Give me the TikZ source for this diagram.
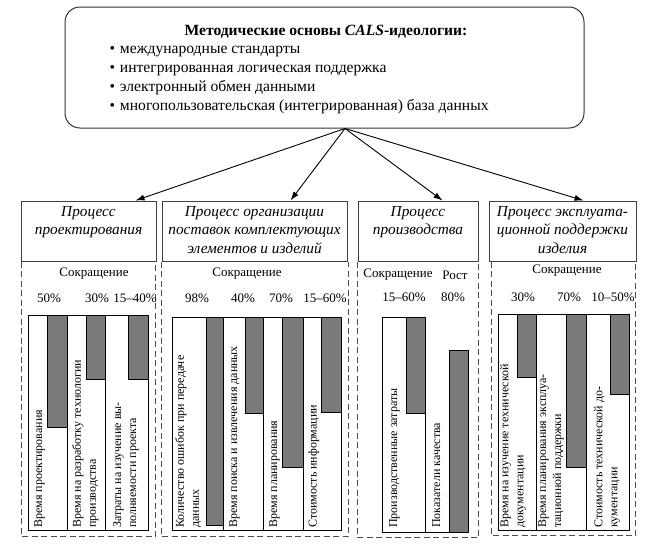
\documentclass[tikz,border=0pt]{standalone}
\usepackage{fontspec}
\setmainfont{Liberation Serif}
\usetikzlibrary{arrows.meta,positioning,calc}

\begin{document}
\begin{tikzpicture}[x=1pt, y=-1pt,
      every node/.style={font=\fontsize{13}{15}\selectfont},
      topbox/.style={draw=black!80, line width=1pt, rounded corners=15pt,
                     minimum width=519pt, minimum height=121pt},
      topitem/.style={anchor=base west, font=\fontsize{15.6}{18}\selectfont},
      procbox/.style={draw=black!75, line width=1pt, minimum height=60pt,
                      align=center, inner sep=1pt,
                      font=\fontsize{15.3}{18.5}\selectfont\itshape},
      panel/.style={draw=black!70, line width=0.9pt, dash pattern=on 6pt off 3.5pt},
      link/.style={-{Latex[length=9pt,width=6pt]}, line width=0.9pt},
      chart/.style={line width=0.6pt},
      bar/.style={draw=black, line width=0.8pt, fill=black!52},
      lbl/.style={rotate=90, anchor=north west, align=left, inner sep=0pt,
                  font=\fontsize{12}{15}\selectfont},
    ]
    \useasboundingbox (0,0) rectangle (656,544);

    % Top block: methodological basis
    \node[topbox] (cals) at (324.5,67.5) {};
    \node[anchor=base, font=\fontsize{15.6}{18}\selectfont\bfseries] (title) at (326,35)
          {Методические основы \textit{CALS}-идеологии:};
    \node[topitem] (it1) at (106,53) {\textbullet\hspace{5pt}международные стандарты};
    \node[topitem] (it2) at (106,72) {\textbullet\hspace{5pt}интегрированная логическая поддержка};
    \node[topitem] (it3) at (106,91) {\textbullet\hspace{5pt}электронный обмен данными};
    \node[topitem] (it4) at (106,110)
          {\textbullet\hspace{5pt}многопользовательская (интегрированная) база данных};
    \coordinate (hub) at ([xshift=20.5pt]cals.south);

    % Process blocks
    \node[procbox, minimum width=135pt] (proc1) at (88.5,231)
          {\strut Процесс\\проектирования\\\strut};
    \node[procbox, minimum width=185pt] (proc2) at (254.5,231)
          {\strut Процесс организации\\поставок комплектующих\\элементов и изделий\strut};
    \node[procbox, minimum width=120pt] (proc3) at (418,231)
          {\strut Процесс\\производства\\\strut};
    \node[procbox, minimum width=147pt] (proc4) at (562.5,231)
          {\strut Процесс эксплуата-\\ционной поддержки\\изделия\strut};

    \draw[link] (hub) -- ([xshift=-21pt]proc1.north east);
    \draw[link] (hub) -- ([xshift=-57pt]proc2.north east);
    \draw[link] (hub) -- ([xshift=-36pt]proc3.north east);
    \draw[link] (hub) -- ([xshift=-53pt]proc4.north east);

    % Dashed panels under the blocks
    \draw[panel] ([xshift=1pt]proc1.south west) -- ++(0,275) -| ([xshift=-1pt]proc1.south east);
    \draw[panel] (proc2.south west) -- ++(0,275) -| ([xshift=1pt]proc2.south east);
    \draw[panel] (proc3.south west) -- ++(0,276) -| (proc3.south east);
    \draw[panel] ([xshift=3pt]proc4.south west) -- ++(0,274) -| ([xshift=-1pt]proc4.south east);

    % Panel 1
    \node (red1) at (94,274) {Сокращение};
    \node (p11) at (49,298) {50\%};
    \node (p12) at (97,298) {30\%};
    \node (p13) at (135,298) {15--40\%};
    \draw[chart] (28,315) rectangle (148,530);
    \draw[chart] (67,315) -- (67,530) (105,315) -- (105,530);
    \draw[bar] (47,315) rectangle (67,427);
    \draw[bar] (86,315) rectangle (105,379);
    \draw[bar] (128,315) rectangle (148,379);
    \node[lbl] (l11) at (34,528) {Время проектирования};
    \node[lbl] (l12) at (72,528) {Время на разработку технологии\\производства};
    \node[lbl] (l13) at (113,528) {Затраты на изучение вы-\\полняемости проекта};

    % Panel 2
    \node (red2) at (247,274) {Сокращение};
    \node (p21) at (197,298) {98\%};
    \node (p22) at (243,298) {40\%};
    \node (p23) at (281,298) {70\%};
    \node (p24) at (325,298) {15--60\%};
    \draw[chart] (172,317) rectangle (341,530);
    \draw[chart] (223,317) -- (223,530) (263,317) -- (263,530) (303,317) -- (303,530);
    \draw[bar] (206,317) rectangle (223,525);
    \draw[bar] (245,317) rectangle (263,413);
    \draw[bar] (282,317) rectangle (303,467);
    \draw[bar] (321,317) rectangle (341,412);
    \node[lbl] (l21) at (175,528) {Количество ошибок при передаче\\данных};
    \node[lbl] (l22) at (229,528) {Время  поиска и извлечения данных};
    \node[lbl] (l23) at (269,528) {Время планирования};
    \node[lbl] (l24) at (308,528) {Стоимость информации};

    % Panel 3
    \node (red3) at (398,275) {Сокращение};
    \node (grow3) at (455,275) {Рост};
    \node (p31) at (404,297) {15--60\%};
    \node (p32) at (453,297) {80\%};
    \draw[chart] (425,317) -- (382,317) -- (382,532) -- (468,532);
    \draw[chart] (425,317) -- (425,532);
    \draw[bar] (406,317) rectangle (425,413);
    \draw[bar] (449,350) rectangle (468,532);
    \node[lbl] (l31) at (389,528) {Производственные затраты};
    \node[lbl] (l32) at (432,528) {Показатели качества};

    % Panel 4
    \node (red4) at (567,271) {Сокращение};
    \node (p41) at (523,297) {30\%};
    \node (p42) at (569,297) {70\%};
    \node (p43) at (613,297) {10--50\%};
    \draw[chart] (498,314) rectangle (629,530);
    \draw[chart] (536,314) -- (536,530) (586,314) -- (586,530);
    \draw[bar] (517,314) rectangle (536,377);
    \draw[bar] (566,314) rectangle (586,467);
    \draw[bar] (610,314) rectangle (629,394);
    \node[lbl] (l41) at (500,528) {Время на изучение технической\\документации};
    \node[lbl] (l42) at (538,528) {Время  планирования эксплуа-\\тационной поддержки};
    \node[lbl] (l43) at (594,528) {Стоимость технической до-\\кументации};
  \end{tikzpicture}
\end{document}
